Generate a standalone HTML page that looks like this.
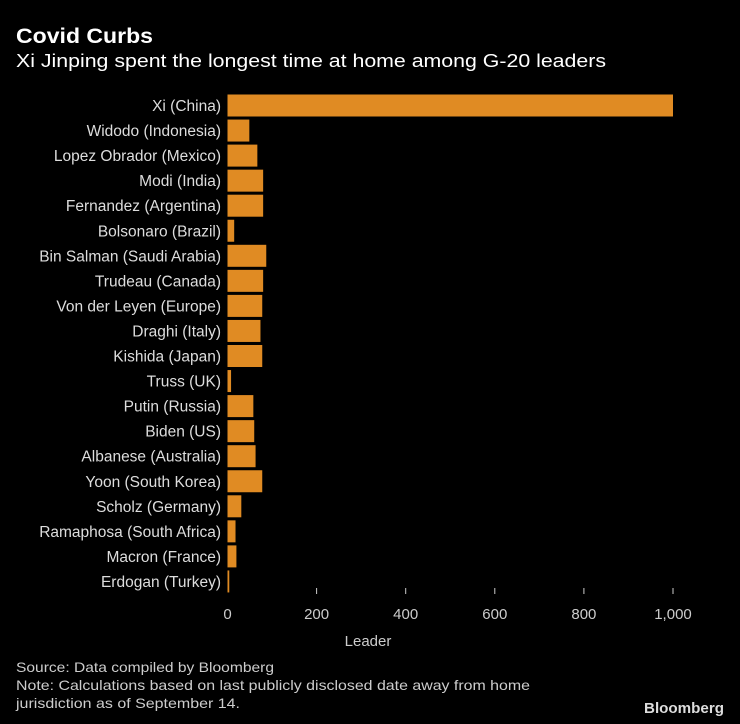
<!DOCTYPE html>
<html><head><meta charset="utf-8"><style>
body{margin:0;background:#000;}
svg{display:block;font-family:"Liberation Sans",sans-serif;}
</style></head><body>
<svg id="chart" width="740" height="724" viewBox="0 0 740 724">
<rect width="740" height="724" fill="#000"/>
<text x="16" y="43" fill="#fff" font-size="21" font-weight="bold" textLength="137" lengthAdjust="spacingAndGlyphs">Covid Curbs</text>
<text x="16" y="67" fill="#fff" font-size="18" textLength="590" lengthAdjust="spacingAndGlyphs">Xi Jinping spent the longest time at home among G-20 leaders</text>
<g id="bars"></g>
<g id="xaxis"></g>
<text x="368" y="646" fill="#ccc" font-size="15" text-anchor="middle">Leader</text>
<text x="16" y="672" fill="#ccc" font-size="14" textLength="258" lengthAdjust="spacingAndGlyphs">Source: Data compiled by Bloomberg</text>
<text x="16" y="690" fill="#ccc" font-size="14" textLength="514" lengthAdjust="spacingAndGlyphs">Note: Calculations based on last publicly disclosed date away from home</text>
<text x="16" y="708" fill="#ccc" font-size="14" textLength="224" lengthAdjust="spacingAndGlyphs">jurisdiction as of September 14.</text>
<text x="724" y="713" fill="#ddd" font-size="15" font-weight="bold" text-anchor="end" textLength="80" lengthAdjust="spacingAndGlyphs">Bloomberg</text>
</svg>
<script>
const categories=["Xi (China)","Widodo (Indonesia)","Lopez Obrador (Mexico)","Modi (India)","Fernandez (Argentina)","Bolsonaro (Brazil)","Bin Salman (Saudi Arabia)","Trudeau (Canada)","Von der Leyen (Europe)","Draghi (Italy)","Kishida (Japan)","Truss (UK)","Putin (Russia)","Biden (US)","Albanese (Australia)","Yoon (South Korea)","Scholz (Germany)","Ramaphosa (South Africa)","Macron (France)","Erdogan (Turkey)"];
const values=[1000,49,67,80,80,15,87,80,78,74,78,8,58,60,63,78,31,18,20,4];
const ticks=[0,200,400,600,800,1000];
const tickLabels=["0","200","400","600","800","1,000"];
const NS="http://www.w3.org/2000/svg";
const x0=227.5,pxPer=0.4455;
const xs=v=>x0+v*pxPer;
const y0=94.5,step=25.05,bh=22;
const ys=i=>y0+i*step;
const bars=document.getElementById('bars');
categories.forEach((c,i)=>{
 const r=document.createElementNS(NS,'rect');
 
 
 r.setAttribute('x',xs(0));r.setAttribute('y',ys(i));
 r.setAttribute('width',Math.max(1,xs(values[i])-xs(0)));r.setAttribute('height',bh);
 r.setAttribute('fill','#e08b23');
 bars.appendChild(r);
 const t=document.createElementNS(NS,'text');
 
 
 t.setAttribute('x',221);t.setAttribute('y',ys(i)+bh/2+5.5);
 t.setAttribute('text-anchor','end');t.setAttribute('fill','#ddd');t.setAttribute('font-size','15.5');
 t.textContent=c;bars.appendChild(t);
});
const ax=document.getElementById('xaxis');
ticks.forEach((v,i)=>{
 if(v>0){const l=document.createElementNS(NS,'line');
 
 
 l.setAttribute('x1',xs(v));l.setAttribute('x2',xs(v));l.setAttribute('y1',588);l.setAttribute('y2',594);
 l.setAttribute('stroke','#ccc');ax.appendChild(l);}
 const t=document.createElementNS(NS,'text');
 
 
 t.setAttribute('x',xs(v));t.setAttribute('y',619);t.setAttribute('text-anchor','middle');
 t.setAttribute('fill','#ccc');t.setAttribute('font-size','15');t.textContent=tickLabels[i];ax.appendChild(t);
});
</script>
</body></html>
